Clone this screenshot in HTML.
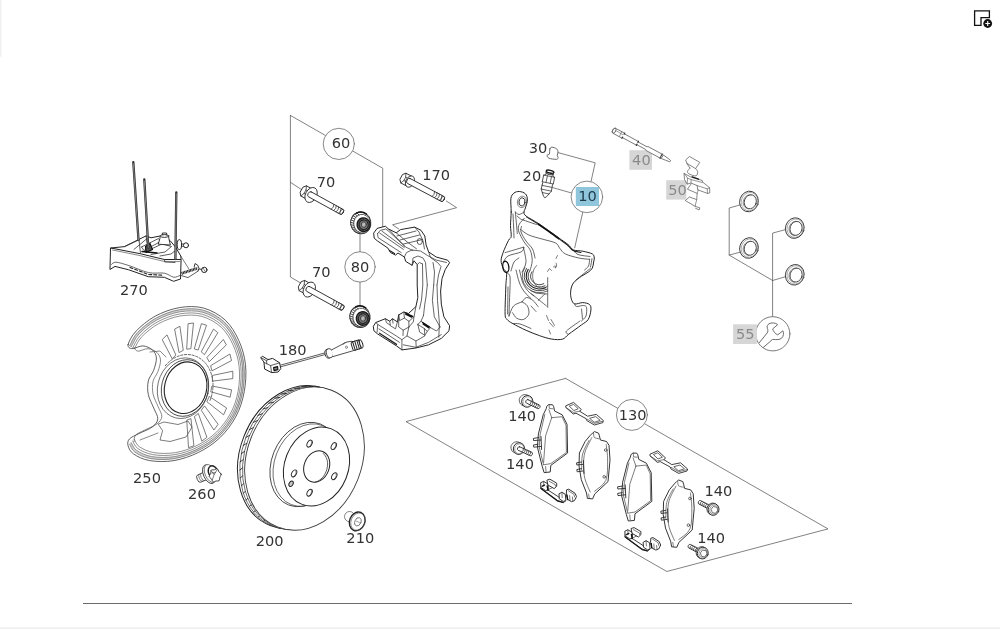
<!DOCTYPE html>
<html lang="en">
<head>
<meta charset="utf-8">
<title>Front brake - parts diagram</title>
<style>
html,body{margin:0;padding:0;background:#fff;}
body{width:1000px;height:629px;overflow:hidden;position:relative;font-family:"DejaVu Sans","Liberation Sans",sans-serif;}
#stage{position:absolute;left:0;top:0;width:1000px;height:629px;background:#fff;}
#diagram{position:absolute;left:0;top:0;will-change:transform;}
#diagram text{font-family:"DejaVu Sans","Liberation Sans",sans-serif;}
#edge{position:absolute;left:0;top:0;width:2px;height:57px;background:linear-gradient(to right,#ededed,#fafafa);border-bottom-right-radius:2px;}
#rule{position:absolute;left:83px;top:603px;width:769px;height:1px;background:#6b6b6b;}
#foot{position:absolute;left:0;top:627px;width:1000px;height:2px;background:linear-gradient(to bottom,#f9f9f9,#ebebeb);}
#zoomicon{position:absolute;left:970px;top:6px;width:26px;height:26px;}
</style>
</head>
<body>
<div id="stage">
<div id="edge"></div>
<svg id="zoomicon" viewBox="970 6 26 26">
<path d="M974.6 10.8 H989.4 V17.6 H981 V25.3 H974.6 Z" fill="#fff" stroke="#111" stroke-width="1.3" stroke-linejoin="miter"/>
<circle cx="987.7" cy="23.5" r="4.4" fill="#111"/>
<path d="M985.3 23.5 H990.1 M987.7 21.1 V25.9" stroke="#fff" stroke-width="1.1"/>
</svg>
<svg id="diagram" width="1000" height="629" viewBox="0 0 1000 629" stroke-linecap="round" stroke-linejoin="round">
<path d="M290.4 115.4 L290.4 277.0 L301.5 283.5" stroke="#585858" stroke-width="0.75" fill="none" />
<path d="M290.4 115.4 L382.7 168.2 L382.7 228.0" stroke="#585858" stroke-width="0.75" fill="none" />
<path d="M290.4 182.3 L301.7 189.7" stroke="#585858" stroke-width="0.75" fill="none" />
<circle cx="338.8" cy="143.9" r="15.6" stroke="#6a6a6a" stroke-width="0.8" fill="#fff"/>
<text x="341.0" y="148.2" text-anchor="middle" font-size="14.6" fill="#333">60</text>
<text x="326.0" y="186.6" text-anchor="middle" font-size="14.6" fill="#333">70</text>
<text x="321.2" y="277.3" text-anchor="middle" font-size="14.6" fill="#333">70</text>
<text x="436.2" y="179.8" text-anchor="middle" font-size="14.6" fill="#333">170</text>
<path d="M446.3 201.0 L456.6 207.7 L392.6 224.8 L398.8 229.0" stroke="#585858" stroke-width="0.75" fill="none" />
<path d="M360.0 234.0 L360.0 305.0" stroke="#585858" stroke-width="0.75" fill="none" />
<circle cx="360.0" cy="266.9" r="15.2" stroke="#6a6a6a" stroke-width="0.8" fill="#fff"/>
<text x="360.0" y="272.0" text-anchor="middle" font-size="14.6" fill="#333">80</text>
<path d="M558.0 152.6 L595.2 162.8 L591.0 181.6" stroke="#585858" stroke-width="0.75" fill="none" />
<path d="M553.0 187.7 L571.6 193.0" stroke="#585858" stroke-width="0.75" fill="none" />
<path d="M582.8 212.0 L574.7 247.8" stroke="#585858" stroke-width="0.75" fill="none" />
<circle cx="586.9" cy="196.9" r="15.8" stroke="#6a6a6a" stroke-width="0.8" fill="#fff"/>
<rect x="575.8" y="187.0" width="23.2" height="19.0" fill="#8fc6dc"/>
<text x="587.6" y="200.8" text-anchor="middle" font-size="14.6" fill="#1f3b4a">10</text>
<text x="538.1" y="153.1" text-anchor="middle" font-size="14.6" fill="#333">30</text>
<text x="531.9" y="181.2" text-anchor="middle" font-size="14.6" fill="#333">20</text>
<rect x="629.4" y="150.2" width="22.6" height="19.6" fill="#d6d6d6"/>
<text x="641.4" y="164.8" text-anchor="middle" font-size="14.6" fill="#8a8a8a">40</text>
<rect x="666.2" y="180.2" width="20.1" height="19.4" fill="#d6d6d6"/>
<text x="677.5" y="194.8" text-anchor="middle" font-size="14.6" fill="#8a8a8a">50</text>
<path d="M739.7 205.0 L729.2 208.0 L729.2 255.1 L772.6 280.5" stroke="#585858" stroke-width="0.75" fill="none" />
<path d="M739.7 252.3 L729.2 255.1" stroke="#585858" stroke-width="0.75" fill="none" />
<path d="M785.1 229.7 L772.6 233.1 L772.6 316.6" stroke="#585858" stroke-width="0.75" fill="none" />
<path d="M785.1 276.8 L772.6 280.5" stroke="#585858" stroke-width="0.75" fill="none" />
<circle cx="772.8" cy="333.8" r="17.1" stroke="#6a6a6a" stroke-width="0.9" fill="#fff"/>
<rect x="733.1" y="324.3" width="23.8" height="19.7" fill="#d6d6d6"/>
<text x="745.2" y="339.3" text-anchor="middle" font-size="14.6" fill="#8a8a8a">55</text>
<path d="M565.6 378.4 L406.0 421.6 L666.8 571.5 L828.0 528.9 L565.6 378.4" stroke="#585858" stroke-width="0.75" fill="none" />
<circle cx="631.9" cy="414.9" r="15.5" stroke="#6a6a6a" stroke-width="0.8" fill="#fff"/>
<text x="632.7" y="420.1" text-anchor="middle" font-size="14.6" fill="#333">130</text>
<text x="522.2" y="421.3" text-anchor="middle" font-size="14.6" fill="#333">140</text>
<text x="520.0" y="468.9" text-anchor="middle" font-size="14.6" fill="#333">140</text>
<text x="718.4" y="495.9" text-anchor="middle" font-size="14.6" fill="#333">140</text>
<text x="711.1" y="542.9" text-anchor="middle" font-size="14.6" fill="#333">140</text>
<text x="133.9" y="295.0" text-anchor="middle" font-size="14.6" fill="#333">270</text>
<text x="147.0" y="482.8" text-anchor="middle" font-size="14.6" fill="#333">250</text>
<text x="202.0" y="498.9" text-anchor="middle" font-size="14.6" fill="#333">260</text>
<text x="269.7" y="546.4" text-anchor="middle" font-size="14.6" fill="#333">200</text>
<text x="360.3" y="542.8" text-anchor="middle" font-size="14.6" fill="#333">210</text>
<text x="292.7" y="355.2" text-anchor="middle" font-size="14.6" fill="#333">180</text>
<g transform="translate(311.1 195.0) rotate(28.8)" stroke="#2a2a2a" stroke-width="0.85" fill="#fff"><path d="M-10.7 -3.2 L-8.5 -5.8 L-1 -5.8 L-1 5.8 L-8.5 5.8 L-10.7 3.2 Z"/><path d="M-8.5 -5.8 L-6.9 -2.0 L-6.9 2.0 L-8.5 5.8 M-6.9 -2.0 L-1 -2.0 M-6.9 2.0 L-1 2.0" fill="none" stroke-width="0.68"/><ellipse cx="0" cy="0" rx="5.6" ry="8.0"/><path d="M-1.5 -2.8 L35.0 -2.8 A1.6 2.8 0 0 1 35.0 2.8 L-1.5 2.8 A1.8 2.8 0 0 1 -1.5 -2.8 Z"/><ellipse cx="35.0" cy="0" rx="1.5" ry="2.8" fill="none" stroke-width="0.68"/><path d="M32.8 -2.8 Q34.4 0 32.8 2.8 M30.0 -2.8 Q31.6 0 30.0 2.8 M27.3 -2.8 Q28.9 0 27.3 2.8 M24.5 -2.8 Q26.1 0 24.5 2.8" fill="none" stroke-width="0.68"/></g>
<g transform="translate(309.3 289.6) rotate(28.8)" stroke="#2a2a2a" stroke-width="0.85" fill="#fff"><path d="M-10.7 -3.2 L-8.5 -5.8 L-1 -5.8 L-1 5.8 L-8.5 5.8 L-10.7 3.2 Z"/><path d="M-8.5 -5.8 L-6.9 -2.0 L-6.9 2.0 L-8.5 5.8 M-6.9 -2.0 L-1 -2.0 M-6.9 2.0 L-1 2.0" fill="none" stroke-width="0.68"/><ellipse cx="0" cy="0" rx="5.6" ry="8.0"/><path d="M-1.5 -2.8 L37.5 -2.8 A1.6 2.8 0 0 1 37.5 2.8 L-1.5 2.8 A1.8 2.8 0 0 1 -1.5 -2.8 Z"/><ellipse cx="37.5" cy="0" rx="1.5" ry="2.8" fill="none" stroke-width="0.68"/><path d="M35.3 -2.8 Q36.9 0 35.3 2.8 M32.5 -2.8 Q34.1 0 32.5 2.8 M29.8 -2.8 Q31.4 0 29.8 2.8 M27.0 -2.8 Q28.6 0 27.0 2.8" fill="none" stroke-width="0.68"/></g>
<g transform="translate(410.0 181.6) rotate(28.0)" stroke="#2a2a2a" stroke-width="0.85" fill="#fff"><path d="M-9.7 -3.0 L-7.5 -5.5 L-1 -5.5 L-1 5.5 L-7.5 5.5 L-9.7 3.0 Z"/><path d="M-7.5 -5.5 L-5.9 -1.9 L-5.9 1.9 L-7.5 5.5 M-5.9 -1.9 L-1 -1.9 M-5.9 1.9 L-1 1.9" fill="none" stroke-width="0.68"/><ellipse cx="0" cy="0" rx="4.2" ry="6.0"/><path d="M-1.5 -2.8 L37.0 -2.8 A1.6 2.8 0 0 1 37.0 2.8 L-1.5 2.8 A1.8 2.8 0 0 1 -1.5 -2.8 Z"/><ellipse cx="37.0" cy="0" rx="1.5" ry="2.8" fill="none" stroke-width="0.68"/><path d="M34.8 -2.8 Q36.4 0 34.8 2.8 M32.0 -2.8 Q33.6 0 32.0 2.8 M29.3 -2.8 Q30.9 0 29.3 2.8 M26.5 -2.8 Q28.1 0 26.5 2.8" fill="none" stroke-width="0.68"/></g>
<ellipse cx="360.7" cy="222.9" rx="10.1" ry="10.8" stroke="#333" stroke-width="1.0" fill="#fff" transform="rotate(-12 360.7 222.9)"/>
<ellipse cx="362.2" cy="223.7" rx="8.5" ry="9.4" stroke="#444" stroke-width="0.8" fill="#fff" transform="rotate(-12 362.2 223.7)"/>
<path d="M358.1 233.3 L360.0 232.8 M356.0 232.4 L358.2 232.0 M354.1 231.1 L356.6 230.8 M352.5 229.2 L355.3 229.2 M351.4 227.1 L354.4 227.4 M350.8 224.8 L353.8 225.3 M350.6 222.3 L353.7 223.2 M351.0 219.9 L354.0 221.1 M351.9 217.7 L354.8 219.1 M353.2 215.7 L355.9 217.4 M354.9 214.1 L357.3 216.0 M356.9 212.9 L359.0 215.0" stroke="#333" stroke-width="0.85" fill="none" />
<path d="M356.4 213.1 A10.1 10.8 0 0 1 366.5 214.1" stroke="#151515" stroke-width="1.5" fill="none" />
<ellipse cx="363.6" cy="224.7" rx="6.5" ry="6.8" stroke="#1a1a1a" stroke-width="1.4" fill="#5e5e5e" transform="rotate(-12 363.6 224.7)"/>
<ellipse cx="363.7" cy="224.8" rx="4.5" ry="4.8" stroke="#222" stroke-width="1.1" fill="#777" transform="rotate(-12 363.7 224.8)"/>
<ellipse cx="363.8" cy="224.6" rx="2.5" ry="2.8" stroke="#333" stroke-width="0.8" fill="#a8a8a8" transform="rotate(-12 363.8 224.6)"/>
<path d="M362.9 225.5 L364.9 223.5" stroke="#e0e0e0" stroke-width="0.9" fill="none" />
<ellipse cx="359.9" cy="316.7" rx="10.1" ry="10.8" stroke="#333" stroke-width="1.0" fill="#fff" transform="rotate(-12 359.9 316.7)"/>
<ellipse cx="361.4" cy="317.5" rx="8.5" ry="9.4" stroke="#444" stroke-width="0.8" fill="#fff" transform="rotate(-12 361.4 317.5)"/>
<path d="M357.3 327.1 L359.2 326.6 M355.2 326.2 L357.4 325.8 M353.3 324.9 L355.8 324.6 M351.7 323.0 L354.5 323.0 M350.6 320.9 L353.6 321.2 M350.0 318.6 L353.0 319.1 M349.8 316.1 L352.9 317.0 M350.2 313.7 L353.2 314.9 M351.1 311.5 L354.0 312.9 M352.4 309.5 L355.1 311.2 M354.1 307.9 L356.5 309.8 M356.1 306.7 L358.2 308.8" stroke="#333" stroke-width="0.85" fill="none" />
<path d="M355.6 306.9 A10.1 10.8 0 0 1 365.7 307.9" stroke="#151515" stroke-width="1.5" fill="none" />
<ellipse cx="362.8" cy="318.5" rx="6.5" ry="6.8" stroke="#1a1a1a" stroke-width="1.4" fill="#5e5e5e" transform="rotate(-12 362.8 318.5)"/>
<ellipse cx="362.9" cy="318.6" rx="4.5" ry="4.8" stroke="#222" stroke-width="1.1" fill="#777" transform="rotate(-12 362.9 318.6)"/>
<ellipse cx="363.0" cy="318.4" rx="2.5" ry="2.8" stroke="#333" stroke-width="0.8" fill="#a8a8a8" transform="rotate(-12 363.0 318.4)"/>
<path d="M362.1 319.3 L364.1 317.3" stroke="#e0e0e0" stroke-width="0.9" fill="none" />
<path d="M373.9 232.8 L377.1 228.4 L385.4 226.2 L388.5 229.0 L396.2 232.8 L400.6 229.6 L414.6 227.1 L421.0 230.3 L424.8 236.0 L426.1 244.9 L428.6 251.9 L436.2 257.0 L447.7 260.2 L449.6 262.7 L445.2 269.7 L442.0 278.6 L440.6 291.0 L441.3 304.1 L443.9 316.8 L449.6 325.7 L449.0 330.8 L441.3 338.4 L428.6 344.8 L415.9 348.0 L401.9 349.9 L396.8 346.1 L377.7 334.0 L373.9 330.8 L373.3 326.3 L375.8 322.5 L385.4 318.7 L389.8 321.3 L392.4 318.7 L397.4 321.9 L398.7 314.9 L403.8 312.0 L408.5 313.5 L415.9 306.6 L417.8 297.7 L417.2 285.0 L417.2 264.6 L414.0 260.8 L412.1 265.3 L405.7 261.4 L404.4 257.0 L398.0 253.0 L395.5 255.1 L390.4 252.5 L387.9 248.1 L377.7 241.1 L374.5 238.5 Z" stroke="#222" stroke-width="1.0" fill="#fff" stroke-linejoin="round"/>
<path d="M377.6 233.6 L380.2 230.4 L385.8 229.0 L389.0 231.5 L404.8 246.4" stroke="#333" stroke-width="0.75" fill="none" />
<path d="M377.6 233.6 L378.0 237.6 L401.2 252.6" stroke="#333" stroke-width="0.75" fill="none" />
<path d="M379.6 233.0 L403.4 249.4" stroke="#333" stroke-width="0.75" fill="none" />
<path d="M382.0 231.2 L404.2 247.6" stroke="#333" stroke-width="0.75" fill="none" />
<path d="M388.5 229.0 L395.5 236.5 L405.5 247.0 L413.0 250.5" stroke="#333" stroke-width="0.75" fill="none" />
<path d="M396.2 232.8 L407.0 241.8 L416.5 248.8" stroke="#333" stroke-width="0.75" fill="none" />
<path d="M397.0 236.0 L416.0 231.0" stroke="#333" stroke-width="0.75" fill="none" />
<path d="M400.0 240.0 L419.5 235.0" stroke="#333" stroke-width="0.75" fill="none" />
<path d="M403.5 244.0 L422.5 239.5" stroke="#333" stroke-width="0.75" fill="none" />
<path d="M414.6 227.1 L419.0 232.0 L423.0 241.0 L424.5 249.0" stroke="#333" stroke-width="0.75" fill="none" />
<path d="M404.4 257.0 L406.5 252.5 L412.0 250.0 L420.5 251.0 L427.5 255.5 L436.0 260.0 L446.5 262.5" stroke="#333" stroke-width="0.75" fill="none" />
<path d="M412.1 265.3 L413.0 258.0 L418.0 256.0 L423.0 258.0 L425.5 262.5 L427.3 285.0" stroke="#333" stroke-width="0.75" fill="none" />
<path d="M417.2 264.6 L419.5 262.5 L422.5 264.0" stroke="#333" stroke-width="0.75" fill="none" />
<path d="M428.6 251.9 L430.5 257.5 L437.5 262.5 L441.0 266.5 L438.5 275.0 L437.0 285.0" stroke="#333" stroke-width="0.75" fill="none" />
<path d="M433.0 262.5 L434.5 272.0 L433.7 285.0" stroke="#333" stroke-width="0.75" fill="none" />
<path d="M427.3 285.0 L426.0 297.0 L424.8 304.1 L423.5 315.5" stroke="#333" stroke-width="0.75" fill="none" />
<path d="M422.5 264.0 L422.8 285.0 L421.5 300.0 L419.5 309.0" stroke="#333" stroke-width="0.75" fill="none" />
<path d="M433.7 285.0 L432.4 300.3 L434.3 316.8 L440.1 327.0" stroke="#333" stroke-width="0.75" fill="none" />
<path d="M437.0 285.0 L437.5 300.3 L439.4 323.2 L438.8 337.2" stroke="#333" stroke-width="0.75" fill="none" />
<path d="M375.8 322.5 L377.7 324.4 L377.1 332.1" stroke="#333" stroke-width="0.75" fill="none" />
<path d="M377.7 324.4 L396.2 335.9 L401.9 339.7 L401.9 349.9" stroke="#333" stroke-width="0.75" fill="none" />
<path d="M379.0 328.9 L399.4 342.3" stroke="#333" stroke-width="0.75" fill="none" />
<path d="M385.4 318.7 L386.4 322.6 L389.9 325.0" stroke="#333" stroke-width="0.75" fill="none" />
<path d="M389.8 321.3 L390.4 325.7 L395.5 328.9 L397.4 321.9" stroke="#333" stroke-width="0.75" fill="none" />
<path d="M392.4 318.7 L393.0 323.2" stroke="#333" stroke-width="0.75" fill="none" />
<path d="M398.7 314.9 L398.7 327.0 L403.2 330.2 L408.9 327.0 L413.3 321.9 L414.0 316.8 L415.9 306.6" stroke="#333" stroke-width="0.75" fill="none" />
<path d="M403.8 312.0 L404.4 318.1 L408.9 321.3 L414.0 316.8" stroke="#333" stroke-width="0.75" fill="none" />
<path d="M398.7 314.9 L399.6 320.6 L404.4 318.1" stroke="#333" stroke-width="0.75" fill="none" />
<path d="M408.9 321.3 L408.9 327.0" stroke="#333" stroke-width="0.75" fill="none" />
<path d="M403.2 330.2 L403.0 335.5" stroke="#333" stroke-width="0.75" fill="none" />
<path d="M417.8 324.4 L421.0 321.3 L430.5 327.6 L427.3 331.4 L424.8 335.3 L419.7 332.1 L417.8 324.4" stroke="#333" stroke-width="0.75" fill="none" />
<path d="M417.8 324.4 L424.4 328.6 L427.3 331.4" stroke="#333" stroke-width="0.75" fill="none" />
<path d="M424.4 328.6 L424.8 335.3" stroke="#333" stroke-width="0.75" fill="none" />
<path d="M421.0 321.3 L423.5 315.5" stroke="#333" stroke-width="0.75" fill="none" />
<path d="M401.9 339.7 L407.0 335.9 L415.9 341.0 L424.8 335.9" stroke="#333" stroke-width="0.75" fill="none" />
<path d="M407.0 335.9 L408.9 327.0" stroke="#333" stroke-width="0.75" fill="none" />
<path d="M415.9 341.0 L416.2 347.6" stroke="#333" stroke-width="0.75" fill="none" />
<path d="M403.2 344.8 L415.9 347.3 L428.6 342.3 L441.3 334.6" stroke="#333" stroke-width="0.75" fill="none" />
<path d="M430.5 327.6 L436.5 331.0 L440.1 327.0" stroke="#333" stroke-width="0.75" fill="none" />
<path d="M405.1 312.8 L412.7 316.4 M405.6 314.2 L411.6 317.2 M422.6 322.4 L429.6 327.0 M423.0 324.0 L428.6 327.8" stroke="#111" stroke-width="1.2" fill="none" />
<path d="M379.5 333.2 L396.5 344.4" stroke="#222" stroke-width="1.3" fill="none" />
<path d="M389.5 250.5 L394.5 253.6" stroke="#222" stroke-width="1.2" fill="none" />
<ellipse cx="419.8" cy="241.5" rx="2.6" ry="3.0" stroke="#333" stroke-width="0.8" fill="none"/>
<path d="M511.2 212.0 C511.3 207.5 510.4 201.7 510.9 198.5 C511.3 195.3 512.5 194.3 513.9 193.1 C515.3 191.9 517.4 191.4 519.3 191.5 C521.2 191.6 524.0 192.4 525.4 193.8 C526.8 195.2 527.4 197.5 527.4 199.9 C527.4 202.3 526.0 206.0 525.4 208.0 C524.8 210.0 523.9 210.7 524.0 212.0 C524.1 213.3 523.5 214.1 526.1 216.1 C528.7 218.1 534.2 220.6 539.6 224.2 C545.0 227.8 553.8 234.3 558.5 237.7 C563.2 241.1 565.5 242.5 568.0 244.5 C570.5 246.5 570.9 248.8 573.4 249.9 C575.9 251.0 579.6 250.5 582.8 251.2 C585.9 251.9 590.4 252.8 592.3 253.9 C594.2 255.0 594.1 256.6 594.3 258.0 C594.5 259.4 593.9 260.3 593.6 262.0 C593.3 263.7 593.2 266.4 592.3 268.1 C591.4 269.8 590.0 270.9 588.2 272.2 C586.4 273.5 584.0 274.4 581.5 276.2 C579.0 278.0 575.2 280.5 573.4 283.0 C571.6 285.5 571.0 288.4 570.7 291.1 C570.4 293.8 570.7 297.1 571.4 299.2 C572.1 301.3 572.8 303.3 574.7 303.9 C576.6 304.5 580.3 302.5 582.8 302.6 C585.3 302.7 588.2 303.4 589.6 304.6 C591.0 305.8 591.1 307.5 590.9 310.0 C590.7 312.5 589.8 317.0 588.2 319.5 C586.6 322.0 584.8 322.4 581.5 324.9 C578.2 327.4 571.8 331.9 568.6 334.3 C565.5 336.7 565.4 338.3 562.6 339.1 C559.8 339.9 555.6 339.7 551.8 339.1 C548.0 338.5 543.9 337.2 539.6 335.7 C535.3 334.2 530.6 332.3 526.1 330.3 C521.6 328.3 515.8 325.3 512.6 323.5 C509.5 321.7 508.4 321.1 507.2 319.5 C505.9 317.9 505.3 319.5 505.1 314.1 C504.9 308.7 505.6 293.8 505.8 287.0 C506.0 280.2 506.9 276.6 506.5 273.5 C506.1 270.4 504.0 270.2 503.1 268.1 C502.2 266.0 501.1 263.3 501.1 260.7 C501.1 258.1 501.9 256.0 503.1 252.6 C504.3 249.2 507.1 243.1 508.5 240.4 C509.9 237.7 510.9 238.9 511.2 236.4 C511.5 233.9 510.5 229.6 510.5 225.5 C510.5 221.4 511.1 216.5 511.2 212.0 Z" stroke="#222" stroke-width="1.0" fill="#fff" />
<ellipse cx="522.0" cy="201.9" rx="3.0" ry="4.0" stroke="#222" stroke-width="0.9" fill="none" transform="rotate(12 522.0 201.9)"/>
<ellipse cx="522.0" cy="201.9" rx="4.6" ry="5.8" stroke="#444" stroke-width="0.6" fill="none" transform="rotate(12 522.0 201.9)"/>
<path d="M515.3 212.0 C515.5 214.2 516.3 221.9 516.6 225.5 C516.9 229.1 517.2 232.2 517.3 233.6" stroke="#333" stroke-width="0.75" fill="none" />
<path d="M513.0 214.0 C513.1 216.0 513.4 222.0 513.6 226.0 C513.8 230.0 513.9 236.0 514.0 238.0" stroke="#333" stroke-width="0.75" fill="none" />
<path d="M515.3 212.0 C515.9 212.4 517.5 214.5 519.0 214.5 C520.5 214.5 523.2 212.4 524.0 212.0" stroke="#333" stroke-width="0.75" fill="none" />
<path d="M517.0 216.0 C517.8 216.6 520.3 219.0 521.5 219.5 C522.7 220.0 523.6 218.9 524.0 218.8" stroke="#333" stroke-width="0.75" fill="none" />
<path d="M524.0 218.8 C523.2 219.7 520.2 222.2 519.3 224.2 C518.4 226.2 517.8 228.0 518.6 230.9 C519.4 233.8 522.1 238.6 524.0 241.8 C525.9 245.0 528.7 246.8 530.1 249.9 C531.5 253.1 532.2 257.3 532.2 260.7 C532.2 264.1 530.5 268.5 530.1 270.1" stroke="#333" stroke-width="0.75" fill="none" />
<path d="M521.5 226.5 C521.4 227.4 520.2 229.6 521.0 232.0 C521.8 234.4 524.1 238.2 526.0 241.0 C527.9 243.8 531.0 246.2 532.5 249.0 C534.0 251.8 534.6 256.5 535.0 258.0" stroke="#333" stroke-width="0.75" fill="none" />
<path d="M523.4 220.1 C525.4 220.8 532.8 223.3 535.5 224.2 C538.2 225.1 535.5 223.0 539.6 225.5 C543.7 228.0 556.5 236.8 559.9 239.1" stroke="#333" stroke-width="0.75" fill="none" />
<path d="M520.7 229.6 C522.1 230.5 525.2 233.4 528.8 235.0 C532.4 236.6 537.8 237.8 542.3 239.1 C546.8 240.4 552.9 241.5 555.8 243.1 C558.7 244.7 558.3 246.7 559.9 248.5 C561.5 250.3 562.1 252.3 565.3 253.9 C568.4 255.5 574.8 257.1 578.8 258.0 C582.8 258.9 587.8 259.1 589.6 259.3" stroke="#333" stroke-width="0.75" fill="none" />
<path d="M573.4 249.9 C574.2 250.7 575.2 253.4 578.0 254.5 C580.8 255.6 588.0 256.2 590.0 256.5" stroke="#333" stroke-width="0.75" fill="none" />
<path d="M505.1 252.6 C508.2 251.7 520.4 248.1 523.4 247.2" stroke="#333" stroke-width="0.75" fill="none" />
<path d="M503.5 262.0 C504.2 261.0 505.1 257.7 508.0 256.0 C510.9 254.3 518.3 253.4 521.0 252.0 C523.7 250.6 523.5 248.2 524.0 247.5" stroke="#333" stroke-width="0.75" fill="none" />
<path d="M523.4 247.2 C523.8 249.7 526.2 257.9 526.0 262.0 C525.8 266.1 522.7 270.3 522.0 272.0" stroke="#333" stroke-width="0.75" fill="none" />
<path d="M589.6 259.3 C589.4 260.4 589.4 264.2 588.5 266.0 C587.6 267.8 585.2 269.3 584.5 270.0" stroke="#333" stroke-width="0.75" fill="none" />
<path d="M592.0 258.5 C591.8 259.9 590.8 265.6 590.5 267.0" stroke="#333" stroke-width="0.75" fill="none" />
<path d="M506.5 273.5 C507.1 274.1 509.5 272.6 510.0 277.0 C510.5 281.4 509.7 293.5 509.5 300.0 C509.3 306.5 509.1 313.3 509.0 316.0" stroke="#333" stroke-width="0.75" fill="none" />
<path d="M508.0 287.0 C507.9 291.5 507.7 309.5 507.6 314.0" stroke="#333" stroke-width="0.75" fill="none" />
<path d="M511.0 271.0 C511.5 269.5 512.7 264.2 514.0 262.0 C515.3 259.8 518.2 258.7 519.0 258.0" stroke="#333" stroke-width="0.75" fill="none" />
<path d="M516.0 270.0 C516.6 272.2 518.1 279.3 519.5 283.0 C520.9 286.7 522.6 289.4 524.5 292.0 C526.4 294.6 529.9 297.4 531.0 298.5" stroke="#333" stroke-width="0.75" fill="none" />
<path d="M519.5 270.0 C520.0 272.0 521.2 278.6 522.5 282.0 C523.8 285.4 525.6 288.2 527.5 290.5 C529.4 292.8 532.9 295.1 534.0 296.0" stroke="#333" stroke-width="0.75" fill="none" />
<path d="M509.0 316.0 C509.8 314.3 511.3 308.4 513.5 306.0 C515.7 303.6 520.6 302.6 522.0 301.9" stroke="#333" stroke-width="0.75" fill="none" />
<path d="M512.6 312.7 C513.3 313.6 514.8 317.0 516.6 318.1 C518.4 319.2 521.4 320.2 523.4 319.5 C525.4 318.8 528.1 316.4 528.8 314.1 C529.5 311.8 528.5 307.9 527.4 305.9 C526.3 303.9 522.9 302.6 522.0 301.9" stroke="#333" stroke-width="0.75" fill="none" />
<path d="M522.0 301.9 C522.8 301.2 524.7 297.7 526.5 297.5 C528.3 297.3 531.1 299.0 533.0 300.5 C534.9 302.0 537.2 305.5 538.0 306.5" stroke="#333" stroke-width="0.75" fill="none" />
<path d="M512.6 323.5 C513.8 323.6 516.9 323.2 520.0 324.0 C523.1 324.8 529.2 327.8 531.0 328.5" stroke="#333" stroke-width="0.75" fill="none" />
<path d="M531.0 306.0 C531.8 306.9 535.2 310.6 536.0 311.5" stroke="#333" stroke-width="0.75" fill="none" />
<path d="M547.7 277.6 C547.7 282.6 547.7 302.4 547.7 307.3" stroke="#333" stroke-width="0.75" fill="none" />
<path d="M531.5 293.8 C534.0 295.8 543.9 303.9 546.4 305.9" stroke="#333" stroke-width="0.75" fill="none" />
<path d="M538.2 300.5 C539.3 299.4 543.9 294.9 545.0 293.8" stroke="#333" stroke-width="0.75" fill="none" />
<path d="M530.0 290.0 C531.0 290.5 533.2 292.3 536.0 293.0 C538.8 293.7 545.2 293.8 547.0 294.0" stroke="#333" stroke-width="0.75" fill="none" />
<path d="M590.3 268.5 C589.2 269.3 586.4 271.6 584.0 273.5 C581.6 275.4 577.3 278.9 576.0 280.0" stroke="#333" stroke-width="0.75" fill="none" />
<path d="M574.7 303.9 C575.0 304.3 575.0 306.2 576.5 306.5 C578.0 306.8 581.8 305.3 583.5 305.5 C585.2 305.7 586.1 305.8 586.5 307.5 C586.9 309.2 586.8 313.8 586.0 316.0 C585.2 318.2 582.2 320.2 581.5 321.0" stroke="#333" stroke-width="0.75" fill="none" />
<path d="M581.5 309.0 C581.7 310.7 582.3 317.3 582.5 319.0" stroke="#333" stroke-width="0.75" fill="none" />
<path d="M568.6 334.3 C568.2 333.8 564.6 333.2 566.5 331.0 C568.4 328.8 577.8 322.7 580.0 321.0" stroke="#333" stroke-width="0.75" fill="none" />
<path d="M526.5 217.0 C528.7 218.3 537.4 223.7 539.6 225.0" stroke="#222" stroke-width="1.0" fill="none" />
<path d="M538.6 224.4 C540.7 225.8 547.6 230.6 551.0 233.0 C554.4 235.4 557.7 237.8 559.0 238.8" stroke="#111" stroke-width="1.6" fill="none" />
<path d="M560.0 239.6 C561.3 240.6 565.8 243.7 568.0 245.5 C570.2 247.3 570.8 249.3 573.0 250.5 C575.2 251.7 579.7 252.2 581.0 252.5" stroke="#222" stroke-width="1.1" fill="none" />
<path d="M543.8 283.7 A9.0 8.5 0 0 1 532.0 271.7" stroke="#333" stroke-width="0.9" fill="none" />
<path d="M545.0 285.8 A11.5 10.9 0 0 1 529.8 270.4" stroke="#333" stroke-width="0.9" fill="none" />
<path d="M545.9 287.5 A13.5 12.8 0 0 1 528.2 269.4" stroke="#222" stroke-width="1.1" fill="none" />
<path d="M546.9 289.2 A15.5 14.7 0 0 1 526.5 268.4" stroke="#333" stroke-width="0.9" fill="none" />
<path d="M547.8 290.9 A17.5 16.6 0 0 1 524.8 267.4" stroke="#444" stroke-width="0.8" fill="none" />
<path d="M547.7 286.0 A8 10.5 0 0 1 536.5 265.5" stroke="#444" stroke-width="0.7" fill="none" />
<ellipse cx="505.8" cy="266.8" rx="3.0" ry="5.6" stroke="#111" stroke-width="1.3" fill="none" transform="rotate(-8 505.8 266.8)"/>
<path d="M547.5 271.5 L549.5 268.5 L551.5 270.5 M553.5 266.8 Q556.5 264.2 555 268 Q557.5 267.5 556.2 263.2 M556 258.5 L557.5 255.5" stroke="#444" stroke-width="0.7" fill="none" />
<path d="M546.5 315.5 L548.5 320.5 M549.5 322.5 L553.5 327 M551 319.5 L554.5 325.5 M549 330 L550.5 334" stroke="#444" stroke-width="0.7" fill="none" />
<ellipse cx="297.3" cy="457.2" rx="57.3" ry="73.5" stroke="#222" stroke-width="1.0" fill="#fff" transform="rotate(21.6 297.3 457.2)"/>
<ellipse cx="299.5" cy="457.6" rx="57.3" ry="73.5" stroke="#444" stroke-width="0.7" fill="none" transform="rotate(21.6 299.5 457.6)"/>
<ellipse cx="302.2" cy="458.1" rx="57.3" ry="73.5" stroke="#444" stroke-width="0.7" fill="none" transform="rotate(21.6 302.2 458.1)"/>
<path d="M263.6 521.2 L264.5 520.4 M258.4 517.1 L259.4 516.0 M253.6 512.1 L254.9 510.8 M249.5 506.4 L251.0 504.9 M246.1 500.1 L247.8 498.3 M243.4 493.2 L245.3 491.3 M241.4 485.8 L243.6 483.8 M240.2 478.1 L242.6 475.9 M239.7 470.1 L242.5 467.9 M240.1 461.9 L243.1 459.7 M241.3 453.7 L244.5 451.4 M243.2 445.5 L246.7 443.3 M245.9 437.5 L249.6 435.3 M249.2 429.7 L253.2 427.7 M253.3 422.3 L257.5 420.5 M257.9 415.4 L262.3 413.7 M263.1 409.0 L267.7 407.6 M268.8 403.3 L273.5 402.1 M274.9 398.3 L279.7 397.3 M281.4 394.1 L286.3 393.4 M288.0 390.8 L293.0 390.3 M294.8 388.3 L299.8 388.2 M301.7 386.7 L306.7 386.9 M308.6 386.1 L313.5 386.6 M315.3 386.4 L320.2 387.2 M321.8 387.7 L326.6 388.8" stroke="#222" stroke-width="0.9" fill="none" />
<ellipse cx="304.5" cy="458.6" rx="57.3" ry="73.5" stroke="#3a3a3a" stroke-width="0.9" fill="#fff" transform="rotate(21.6 304.5 458.6)"/>
<ellipse cx="304.5" cy="464.5" rx="33.0" ry="43.5" stroke="#333" stroke-width="0.8" fill="none" transform="rotate(21.6 304.5 464.5)"/>
<ellipse cx="306.9" cy="465.1" rx="32.4" ry="42.5" stroke="#444" stroke-width="0.7" fill="none" transform="rotate(21.6 306.9 465.1)"/>
<ellipse cx="316.5" cy="466.5" rx="31.8" ry="40.5" stroke="#222" stroke-width="1.0" fill="#fff" transform="rotate(21.6 316.5 466.5)"/>
<ellipse cx="316.7" cy="466.5" rx="12.5" ry="16.2" stroke="#222" stroke-width="1.0" fill="#fff" transform="rotate(21.6 316.7 466.5)"/>
<path d="M323.3 453.5 L324.3 454.6 L325.3 455.9 L326.1 457.3 L326.7 458.8 L327.2 460.4 L327.5 462.2 L327.6 464.0 L327.5 465.8 L327.2 467.7 L326.8 469.5 L326.2 471.3 L325.4 473.1 L324.5 474.7 L323.5 476.3 L322.3 477.7 L321.0 479.0 L319.6 480.1 L318.2 481.0 L316.7 481.7 L315.1 482.2" stroke="#333" stroke-width="0.8" fill="none" />
<ellipse cx="309.6" cy="443.6" rx="2.3" ry="3.7" stroke="#222" stroke-width="0.9" fill="#fff" transform="rotate(29.6 309.6 443.6)"/>
<path d="M311.2 441.2 L311.5 441.9 L311.5 442.9 L311.3 443.9 L310.8 444.9 L310.2 445.9 L309.4 446.6 L308.6 447.0 L307.8 447.2" stroke="#333" stroke-width="0.6" fill="none" />
<ellipse cx="333.8" cy="446.1" rx="2.3" ry="3.7" stroke="#222" stroke-width="0.9" fill="#fff" transform="rotate(29.6 333.8 446.1)"/>
<path d="M335.4 443.7 L335.7 444.4 L335.7 445.4 L335.5 446.4 L335.0 447.4 L334.4 448.4 L333.6 449.1 L332.8 449.5 L332.0 449.7" stroke="#333" stroke-width="0.6" fill="none" />
<ellipse cx="334.3" cy="476.2" rx="2.3" ry="3.7" stroke="#222" stroke-width="0.9" fill="#fff" transform="rotate(29.6 334.3 476.2)"/>
<path d="M335.9 473.8 L336.2 474.5 L336.2 475.5 L336.0 476.5 L335.5 477.5 L334.9 478.5 L334.1 479.2 L333.3 479.6 L332.5 479.8" stroke="#333" stroke-width="0.6" fill="none" />
<ellipse cx="309.6" cy="492.7" rx="2.3" ry="3.7" stroke="#222" stroke-width="0.9" fill="#fff" transform="rotate(29.6 309.6 492.7)"/>
<path d="M311.2 490.3 L311.5 491.0 L311.5 492.0 L311.3 493.0 L310.8 494.0 L310.2 495.0 L309.4 495.7 L308.6 496.1 L307.8 496.3" stroke="#333" stroke-width="0.6" fill="none" />
<ellipse cx="294.1" cy="473.4" rx="2.3" ry="3.7" stroke="#222" stroke-width="0.9" fill="#fff" transform="rotate(29.6 294.1 473.4)"/>
<path d="M295.7 471.0 L296.0 471.7 L296.0 472.7 L295.8 473.7 L295.3 474.7 L294.7 475.7 L293.9 476.4 L293.1 476.8 L292.3 477.0" stroke="#333" stroke-width="0.6" fill="none" />
<ellipse cx="291.1" cy="483.8" rx="1.9" ry="2.9" stroke="#222" stroke-width="1.0" fill="#ccc" transform="rotate(29.6 291.1 483.8)"/>
<path d="M128.1 344.5 C128.8 341.6 131.7 335.7 136.2 331.0 C140.7 326.3 147.9 320.1 155.1 316.2 C162.3 312.3 171.3 309.0 179.4 307.6 C187.5 306.2 196.0 306.0 203.7 308.1 C211.3 310.2 219.5 314.8 225.3 320.2 C231.2 325.6 235.4 333.1 238.8 340.5 C242.2 347.9 244.6 356.2 245.5 364.8 C246.4 373.4 245.8 383.2 244.2 391.8 C242.6 400.4 240.1 408.5 236.1 416.1 C232.1 423.8 226.2 431.6 219.9 437.7 C213.6 443.8 206.0 448.7 198.3 452.5 C190.7 456.3 182.1 459.2 174.0 460.6 C165.9 462.0 156.4 461.7 149.7 460.6 C142.9 459.5 137.1 456.4 133.5 453.9 C129.9 451.4 128.8 448.3 128.1 445.8 C127.4 443.3 127.6 441.0 129.4 439.0 C131.2 437.0 135.1 435.6 138.9 433.6 C142.7 431.6 149.2 429.4 152.4 426.9 C155.6 424.4 157.6 421.9 157.8 418.8 C158.0 415.7 155.3 412.1 153.7 408.0 C152.1 403.9 149.2 399.0 148.3 394.5 C147.4 390.0 147.4 385.1 148.3 381.0 C149.2 376.9 152.3 374.0 153.7 370.2 C155.0 366.4 156.6 361.4 156.4 358.0 C156.2 354.6 154.7 351.9 152.4 349.9 C150.2 347.9 146.3 346.1 142.9 345.9 C139.5 345.7 134.6 348.8 132.1 348.6 C129.6 348.4 127.4 347.4 128.1 344.5 Z" stroke="#444" stroke-width="0.85" fill="#fff" />
<path d="M130.5 346.2 C131.8 344.0 133.9 337.7 138.2 333.2 C142.6 328.7 149.5 322.7 156.4 319.0 C163.3 315.2 171.9 312.0 179.7 310.7 C187.5 309.4 195.7 309.2 203.0 311.2 C210.4 313.2 218.2 317.6 223.8 322.8 C229.4 328.0 233.5 335.2 236.7 342.3 C240.0 349.5 242.3 357.4 243.2 365.6 C244.0 373.9 243.4 383.4 241.9 391.6 C240.4 399.8 238.0 407.6 234.1 414.9 C230.2 422.2 224.6 429.8 218.6 435.6 C212.5 441.5 205.2 446.2 197.8 449.8 C190.5 453.5 182.3 456.3 174.5 457.6 C166.7 458.9 157.7 458.7 151.2 457.6 C144.7 456.5 139.1 453.6 135.6 451.2 C132.2 448.8 131.3 444.7 130.5 443.4" stroke="#d2d2d2" stroke-width="1.7" fill="none" />
<path d="M129.7 345.6 C131.0 343.4 133.2 337.1 137.6 332.5 C142.0 327.9 149.0 321.9 156.0 318.1 C163.0 314.3 171.7 311.0 179.6 309.7 C187.5 308.4 195.8 308.2 203.2 310.2 C210.7 312.2 218.6 316.7 224.3 322.0 C230.0 327.2 234.1 334.5 237.4 341.7 C240.7 349.0 243.0 357.1 243.9 365.4 C244.8 373.7 244.2 383.3 242.7 391.6 C241.1 400.0 238.7 407.8 234.8 415.3 C230.8 422.7 225.1 430.4 219.0 436.3 C212.9 442.2 205.4 447.0 198.0 450.7 C190.6 454.4 182.2 457.3 174.4 458.6 C166.5 459.9 157.3 459.7 150.7 458.6 C144.1 457.5 138.4 454.5 134.9 452.1 C131.4 449.7 130.6 445.5 129.7 444.2" stroke="#555" stroke-width="0.65" fill="none" />
<path d="M131.3 346.7 C132.6 344.6 134.7 338.4 138.9 334.0 C143.2 329.5 150.0 323.7 156.8 320.0 C163.6 316.3 172.1 313.1 179.8 311.8 C187.5 310.6 195.6 310.3 202.8 312.3 C210.0 314.3 217.7 318.6 223.2 323.8 C228.8 328.9 232.8 335.9 236.0 343.0 C239.2 350.0 241.5 357.9 242.3 365.9 C243.2 374.0 242.6 383.4 241.1 391.5 C239.6 399.6 237.3 407.2 233.4 414.5 C229.6 421.7 224.1 429.2 218.1 434.9 C212.2 440.6 204.9 445.3 197.7 448.9 C190.5 452.5 182.4 455.3 174.7 456.6 C167.0 457.8 158.1 457.6 151.7 456.6 C145.3 455.5 139.8 452.6 136.4 450.2 C133.0 447.9 132.1 443.8 131.3 442.6" stroke="#555" stroke-width="0.65" fill="none" />
<path d="M132.8 347.8 C134.1 345.8 136.1 339.7 140.3 335.4 C144.4 331.1 151.0 325.4 157.7 321.8 C164.3 318.2 172.6 315.1 180.0 313.9 C187.5 312.6 195.3 312.4 202.4 314.3 C209.4 316.3 216.9 320.5 222.2 325.5 C227.6 330.4 231.6 337.3 234.7 344.1 C237.8 351.0 240.0 358.6 240.8 366.5 C241.6 374.4 241.1 383.5 239.6 391.3 C238.2 399.2 235.9 406.7 232.2 413.7 C228.4 420.7 223.1 428.0 217.3 433.6 C211.5 439.1 204.4 443.7 197.4 447.2 C190.4 450.7 182.5 453.4 175.0 454.6 C167.6 455.9 158.9 455.7 152.7 454.6 C146.5 453.6 141.1 450.7 137.8 448.5 C134.5 446.2 133.6 442.3 132.8 441.0" stroke="#555" stroke-width="0.65" fill="none" />
<path d="M134.4 348.9 C135.6 346.9 137.6 341.1 141.6 336.9 C145.7 332.7 152.1 327.2 158.5 323.7 C164.9 320.2 173.0 317.2 180.2 316.0 C187.4 314.8 195.1 314.6 201.9 316.4 C208.7 318.3 216.0 322.4 221.2 327.2 C226.4 332.1 230.3 338.7 233.3 345.4 C236.3 352.0 238.4 359.4 239.2 367.1 C240.0 374.7 239.5 383.5 238.1 391.2 C236.7 398.8 234.5 406.0 230.8 412.9 C227.2 419.7 222.0 426.8 216.4 432.2 C210.8 437.6 203.9 442.0 197.1 445.4 C190.3 448.8 182.6 451.4 175.4 452.6 C168.2 453.8 159.7 453.6 153.7 452.6 C147.7 451.6 142.4 448.8 139.2 446.6 C136.0 444.4 135.2 440.6 134.4 439.4" stroke="#555" stroke-width="0.65" fill="none" />
<path d="M134.2 441.6 C134.4 440.6 133.8 437.2 135.4 435.3 C137.1 433.4 140.7 432.1 144.3 430.3 C147.8 428.4 153.9 426.3 156.8 424.0 C159.8 421.7 161.6 419.4 161.8 416.5 C162.0 413.6 159.5 410.2 158.0 406.5 C156.6 402.7 153.8 398.1 153.0 393.9 C152.2 389.7 152.2 385.1 153.0 381.4 C153.8 377.6 156.8 374.9 158.0 371.3 C159.3 367.7 160.7 363.1 160.5 360.0 C160.3 356.8 158.9 354.3 156.8 352.4 C154.7 350.6 151.1 348.9 148.0 348.7 C144.8 348.5 140.2 351.4 137.9 351.2 C135.6 351.0 134.8 348.0 134.2 347.4" stroke="#555" stroke-width="0.7" fill="none" />
<ellipse cx="185.6" cy="387.7" rx="21.0" ry="26.0" stroke="#222" stroke-width="1.1" fill="#fff" transform="rotate(14 185.6 387.7)"/>
<ellipse cx="185.0" cy="388.0" rx="23.4" ry="28.6" stroke="#333" stroke-width="0.8" fill="none" transform="rotate(14 185.0 388.0)"/>
<ellipse cx="183.0" cy="388.2" rx="25.4" ry="30.6" stroke="#444" stroke-width="0.7" fill="none" transform="rotate(14 183.0 388.2)"/>
<path d="M172.0 358.4 L162.2 339.6 L167.0 334.9 L175.7 354.7 Z M179.0 352.2 L174.6 329.1 L179.9 326.3 L183.2 350.0 Z M186.7 348.8 L188.1 323.7 L193.5 323.0 L190.9 348.3 Z M194.4 348.6 L201.4 323.7 L206.5 325.2 L198.3 349.7 Z M201.4 351.5 L213.5 329.1 L217.8 332.7 L204.7 354.3 Z M207.1 357.3 L223.3 339.5 L226.4 344.8 L209.5 361.5 Z M211.0 365.5 L229.9 354.0 L231.5 360.6 L212.3 370.7 Z M212.8 375.4 L232.8 371.2 L232.8 378.6 L212.8 381.1 Z M212.3 386.1 L231.6 389.8 L230.1 397.2 L211.1 391.9 Z M209.5 396.6 L226.6 408.0 L223.6 414.8 L207.2 402.0 Z M204.8 406.2 L218.1 424.3 L213.9 430.0 L201.5 410.6 Z M198.4 413.8 L206.9 437.3 L201.8 441.2 L194.5 417.0 Z M191.0 419.0 L193.9 445.7 L188.5 447.7 L186.8 420.5 Z" stroke="#444" stroke-width="0.7" fill="none" />
<path d="M165.2 365.8 L166.7 364.1 L168.3 362.6 L169.9 361.1 L171.6 359.8 L173.4 358.6 L175.3 357.5 L177.2 356.6 L179.1 355.9 L181.1 355.3 L183.0 354.9 L185.0 354.6 L187.0 354.5 L189.0 354.6 L190.9 354.8 L192.8 355.2 L194.7 355.8 L196.5 356.5 L198.3 357.3 L200.0 358.4 L201.6 359.5 L203.2 360.8 L204.6 362.3 L206.0 363.8 L207.2 365.5 L208.4 367.3 L209.4 369.2 L210.3 371.2 L211.1 373.2 L211.7 375.4 L212.2 377.6 L212.6 379.8 L212.9 382.1 L213.0 384.4 L213.0 386.8 L212.8 389.1 L212.5 391.5 L212.0 393.8 L211.5 396.1 L210.8 398.4 L209.9 400.6" stroke="#555" stroke-width="0.9" fill="none" stroke-dasharray="2.2 1.6"/>
<path d="M158.5 424.0 L164.0 422.0 L178.0 424.5 L188.0 421.0 L192.0 427.0 L186.0 437.0 L170.0 441.5 L160.0 440.0 L162.5 431.0 Z" stroke="#444" stroke-width="0.7" fill="none" />
<path d="M140.0 440.0 L158.0 433.0" stroke="#555" stroke-width="0.7" fill="none" />
<path d="M150.0 352.0 L160.0 351.0 L166.0 357.0" stroke="#555" stroke-width="0.7" fill="none" />
<path d="M547.0 406.2 L548.5 404.6 L552.6 404.8 L553.6 406.4 L554.6 411.0 L562.2 414.8 L567.0 424.3 L567.6 453.0 L550.8 465.4 L550.2 472.0 L544.1 472.6 L542.2 466.3 L537.4 447.2 L538.4 433.9 L543.2 414.8 L546.0 409.1 Z" stroke="#2a2a2a" stroke-width="0.95" fill="#fff" />
<path d="M551.7 417.7 L562.0 416.7 L566.0 425.3 L566.4 452.4 L550.8 463.6 L543.6 464.8" stroke="#444" stroke-width="0.7" fill="none" />
<path d="M551.7 417.7 L545.6 435.8 L543.6 462.5" stroke="#444" stroke-width="0.7" fill="none" />
<path d="M548.9 409.6 L551.7 417.7" stroke="#444" stroke-width="0.7" fill="none" />
<path d="M544.8 414.5 L540.2 434.0 L539.2 447.0 L543.5 464.5" stroke="#444" stroke-width="0.7" fill="none" />
<path d="M549.0 404.8 L549.4 408.5 L553.0 408.8" stroke="#444" stroke-width="0.7" fill="none" />
<path d="M545.6 466.5 L546.0 471.5" stroke="#444" stroke-width="0.7" fill="none" />
<path d="M538.6 437.6 L533.4 438.4 L533.6 440.6 L541.0 440.0 M538.0 444.2 L533.4 445.0 L533.8 447.2 L541.4 446.4" stroke="#2a2a2a" stroke-width="0.9" fill="none" />
<path d="M541.0 436.5 L541.6 449.5" stroke="#2a2a2a" stroke-width="0.9" fill="none" />
<path d="M592.8 432.9 L594.5 431.6 L598.6 433.2 L599.4 435.8 L600.4 440.0 L606.5 441.5 L609.0 445.3 L610.0 460.0 L608.0 481.6 L594.7 494.0 L592.6 498.9 L587.4 498.4 L586.5 493.0 L581.3 479.7 L579.0 466.0 L579.4 453.0 L585.1 441.5 L589.9 435.8 Z" stroke="#2a2a2a" stroke-width="0.95" fill="#fff" />
<path d="M591.8 437.7 C590.7 440.1 586.4 447.3 585.0 452.0 C583.6 456.7 583.6 461.5 583.6 466.0 C583.6 470.5 583.9 474.7 585.0 479.0 C586.1 483.3 589.3 489.8 590.2 492.0" stroke="#444" stroke-width="0.7" fill="none" />
<path d="M589.0 440.5 C587.9 442.8 583.8 449.1 582.6 454.0 C581.4 458.9 581.8 467.3 581.6 470.0" stroke="#444" stroke-width="0.7" fill="none" />
<path d="M606.2 444.5 C606.4 447.1 607.7 454.0 607.6 460.0 C607.5 466.0 608.0 475.2 605.8 480.4 C603.6 485.6 596.4 489.4 594.5 491.2" stroke="#444" stroke-width="0.7" fill="none" />
<path d="M593.6 433.4 C593.7 434.1 593.5 436.5 594.4 437.4 C595.3 438.3 598.2 438.6 599.0 438.8" stroke="#444" stroke-width="0.7" fill="none" />
<path d="M588.6 494.0 C588.7 494.7 589.1 497.3 589.2 498.0" stroke="#444" stroke-width="0.7" fill="none" />
<path d="M581.5 462.0 L576.6 462.8 L576.8 465.0 L582.6 464.4 M581.4 468.6 L576.8 469.6 L577.2 471.8 L583.0 471.0" stroke="#2a2a2a" stroke-width="0.9" fill="none" />
<path d="M583.4 460.5 L584.0 473.5" stroke="#2a2a2a" stroke-width="0.9" fill="none" />
<circle cx="605.7" cy="450.1" r="1.3" stroke="#2a2a2a" stroke-width="0.7" fill="#fff"/>
<circle cx="604.2" cy="476.8" r="1.3" stroke="#2a2a2a" stroke-width="0.7" fill="#fff"/>
<path d="M566.2 405.6 L573.6 402.4 L581.4 409.6 L579.6 411.2 L587.6 416.2 L596.4 414.4 L603.4 420.6 L602.8 422.6 L594.4 425.0 L586.8 420.6 L586.0 418.6 L576.0 413.2 L573.2 414.0 L566.0 407.6 Z" stroke="#2a2a2a" stroke-width="0.9" fill="#fff" />
<path d="M569.6 406.0 L573.6 404.4 L578.2 408.8 L574.2 410.4 Z M590.0 418.2 L595.8 416.6 L600.2 420.4 L594.6 422.2 Z" stroke="#333" stroke-width="0.75" fill="none" />
<path d="M566.0 407.6 L573.4 412.4 L579.6 411.2 M587.0 419.0 L594.4 423.4 L602.8 421.2" stroke="#444" stroke-width="0.7" fill="none" />
<path d="M540.7 488.0 L541.3 485.7 L559.0 497.2 L565.9 500.6 L563.5 502.6 L557.9 500.6 Z" stroke="#2a2a2a" stroke-width="0.9" fill="#fff" />
<path d="M541.0 488.6 L557.9 501.2 L563.0 502.4" stroke="#1a1a1a" stroke-width="1.3" fill="none" />
<path d="M541.0 482.6 L543.6 481.4 L548.2 484.0 L548.2 489.7 L545.6 490.6 L541.2 487.6 Z" stroke="#2a2a2a" stroke-width="0.95" fill="#fff" />
<path d="M547.3 480.0 L549.9 479.2 L556.7 483.2 L556.7 486.3 L554.2 488.6 L548.2 485.2 Z" stroke="#2a2a2a" stroke-width="0.95" fill="#fff" />
<path d="M549.2 481.2 L555.4 484.8 L555.4 486.2 M543.6 481.4 L543.8 486.0 M548.2 489.7 L552.4 487.6" stroke="#444" stroke-width="0.7" fill="none" />
<path d="M547.2 486.0 L548.0 490.2 M542.4 486.2 L544.6 485.0" stroke="#111" stroke-width="1.4" fill="none" />
<path d="M559.3 493.7 L561.9 492.3 L565.3 494.3 L565.9 500.6 L563.2 501.4 L559.6 499.0 Z" stroke="#2a2a2a" stroke-width="0.95" fill="#fff" />
<path d="M567.0 489.7 L568.8 489.2 L575.0 493.2 L576.5 496.6 L574.5 500.6 L571.6 501.7 L567.6 499.5 L566.4 494.6 Z" stroke="#2a2a2a" stroke-width="0.95" fill="#fff" />
<path d="M568.4 490.8 L574.0 494.4 L574.6 497.0 M561.9 492.3 L562.2 497.6 M569.6 495.6 L570.0 500.6 M572.4 497.0 L572.8 501.0" stroke="#444" stroke-width="0.7" fill="none" />
<path d="M567.0 495.0 L567.6 499.5" stroke="#111" stroke-width="1.3" fill="none" />
<path d="M631.2 454.6 L632.7 453.0 L636.8 453.2 L637.8 454.8 L638.8 459.4 L646.4 463.2 L651.2 472.7 L651.8 501.4 L635.0 513.8 L634.4 520.4 L628.3 521.0 L626.4 514.7 L621.6 495.6 L622.6 482.3 L627.4 463.2 L630.2 457.5 Z" stroke="#2a2a2a" stroke-width="0.95" fill="#fff" />
<path d="M635.9 466.1 L646.2 465.1 L650.2 473.7 L650.6 500.8 L635.0 512.0 L627.8 513.2" stroke="#444" stroke-width="0.7" fill="none" />
<path d="M635.9 466.1 L629.8 484.2 L627.8 510.9" stroke="#444" stroke-width="0.7" fill="none" />
<path d="M633.1 458.0 L635.9 466.1" stroke="#444" stroke-width="0.7" fill="none" />
<path d="M629.0 462.9 L624.4 482.4 L623.4 495.4 L627.7 512.9" stroke="#444" stroke-width="0.7" fill="none" />
<path d="M633.2 453.2 L633.6 456.9 L637.2 457.2" stroke="#444" stroke-width="0.7" fill="none" />
<path d="M629.8 514.9 L630.2 519.9" stroke="#444" stroke-width="0.7" fill="none" />
<path d="M622.8 486.0 L617.6 486.8 L617.8 489.0 L625.2 488.4 M622.2 492.6 L617.6 493.4 L618.0 495.6 L625.6 494.8" stroke="#2a2a2a" stroke-width="0.9" fill="none" />
<path d="M625.2 484.9 L625.8 497.9" stroke="#2a2a2a" stroke-width="0.9" fill="none" />
<path d="M677.0 481.3 L678.7 480.0 L682.8 481.6 L683.6 484.2 L684.6 488.4 L690.7 489.9 L693.2 493.7 L694.2 508.4 L692.2 530.0 L678.9 542.4 L676.8 547.3 L671.6 546.8 L670.7 541.4 L665.5 528.1 L663.2 514.4 L663.6 501.4 L669.3 489.9 L674.1 484.2 Z" stroke="#2a2a2a" stroke-width="0.95" fill="#fff" />
<path d="M676.0 486.1 C674.9 488.5 670.6 495.7 669.2 500.4 C667.8 505.1 667.8 509.9 667.8 514.4 C667.8 518.9 668.1 523.1 669.2 527.4 C670.3 531.7 673.5 538.2 674.4 540.4" stroke="#444" stroke-width="0.7" fill="none" />
<path d="M673.2 488.9 C672.1 491.1 668.0 497.5 666.8 502.4 C665.6 507.3 666.0 515.7 665.8 518.4" stroke="#444" stroke-width="0.7" fill="none" />
<path d="M690.4 492.9 C690.6 495.5 691.9 502.4 691.8 508.4 C691.7 514.4 692.2 523.6 690.0 528.8 C687.8 534.0 680.6 537.8 678.7 539.6" stroke="#444" stroke-width="0.7" fill="none" />
<path d="M677.8 481.8 C677.9 482.5 677.7 484.9 678.6 485.8 C679.5 486.7 682.4 487.0 683.2 487.2" stroke="#444" stroke-width="0.7" fill="none" />
<path d="M672.8 542.4 C672.9 543.1 673.3 545.7 673.4 546.4" stroke="#444" stroke-width="0.7" fill="none" />
<path d="M665.7 510.4 L660.8 511.2 L661.0 513.4 L666.8 512.8 M665.6 517.0 L661.0 518.0 L661.4 520.2 L667.2 519.4" stroke="#2a2a2a" stroke-width="0.9" fill="none" />
<path d="M667.6 508.9 L668.2 521.9" stroke="#2a2a2a" stroke-width="0.9" fill="none" />
<circle cx="689.9" cy="498.5" r="1.3" stroke="#2a2a2a" stroke-width="0.7" fill="#fff"/>
<circle cx="688.4" cy="525.2" r="1.3" stroke="#2a2a2a" stroke-width="0.7" fill="#fff"/>
<path d="M650.4 454.0 L657.8 450.8 L665.6 458.0 L663.8 459.6 L671.8 464.6 L680.6 462.8 L687.6 469.0 L687.0 471.0 L678.6 473.4 L671.0 469.0 L670.2 467.0 L660.2 461.6 L657.4 462.4 L650.2 456.0 Z" stroke="#2a2a2a" stroke-width="0.9" fill="#fff" />
<path d="M653.8 454.4 L657.8 452.8 L662.4 457.2 L658.4 458.8 Z M674.2 466.6 L680.0 465.0 L684.4 468.8 L678.8 470.6 Z" stroke="#333" stroke-width="0.75" fill="none" />
<path d="M650.2 456.0 L657.6 460.8 L663.8 459.6 M671.2 467.4 L678.6 471.8 L687.0 469.6" stroke="#444" stroke-width="0.7" fill="none" />
<path d="M624.9 536.4 L625.5 534.1 L643.2 545.6 L650.1 549.0 L647.7 551.0 L642.1 549.0 Z" stroke="#2a2a2a" stroke-width="0.9" fill="#fff" />
<path d="M625.2 537.0 L642.1 549.6 L647.2 550.8" stroke="#1a1a1a" stroke-width="1.3" fill="none" />
<path d="M625.2 531.0 L627.8 529.8 L632.4 532.4 L632.4 538.1 L629.8 539.0 L625.4 536.0 Z" stroke="#2a2a2a" stroke-width="0.95" fill="#fff" />
<path d="M631.5 528.4 L634.1 527.6 L640.9 531.6 L640.9 534.7 L638.4 537.0 L632.4 533.6 Z" stroke="#2a2a2a" stroke-width="0.95" fill="#fff" />
<path d="M633.4 529.6 L639.6 533.2 L639.6 534.6 M627.8 529.8 L628.0 534.4 M632.4 538.1 L636.6 536.0" stroke="#444" stroke-width="0.7" fill="none" />
<path d="M631.4 534.4 L632.2 538.6 M626.6 534.6 L628.8 533.4" stroke="#111" stroke-width="1.4" fill="none" />
<path d="M643.5 542.1 L646.1 540.7 L649.5 542.7 L650.1 549.0 L647.4 549.8 L643.8 547.4 Z" stroke="#2a2a2a" stroke-width="0.95" fill="#fff" />
<path d="M651.2 538.1 L653.0 537.6 L659.2 541.6 L660.7 545.0 L658.7 549.0 L655.8 550.1 L651.8 547.9 L650.6 543.0 Z" stroke="#2a2a2a" stroke-width="0.95" fill="#fff" />
<path d="M652.6 539.2 L658.2 542.8 L658.8 545.4 M646.1 540.7 L646.4 546.0 M653.8 544.0 L654.2 549.0 M656.6 545.4 L657.0 549.4" stroke="#444" stroke-width="0.7" fill="none" />
<path d="M651.2 543.4 L651.8 547.9" stroke="#111" stroke-width="1.3" fill="none" />
<path d="M530.7 402.3 C530.1 403.9 527.8 405.7 526.1 406.0 C524.4 406.3 521.6 405.3 520.5 404.0 C519.4 402.7 518.9 399.9 519.5 398.3 C520.1 396.7 522.4 394.9 524.1 394.6 C525.8 394.3 528.6 395.3 529.7 396.6 C530.8 397.9 531.3 400.7 530.7 402.3 Z" stroke="#3a3a3a" stroke-width="0.8" fill="#fff" />
<ellipse cx="527.3" cy="401.4" rx="5.6" ry="5.9" stroke="#2a2a2a" stroke-width="0.9" fill="#fff" transform="rotate(20 527.3 401.4)"/>
<ellipse cx="527.7" cy="401.6" rx="4.6" ry="4.9" stroke="#777" stroke-width="0.55" fill="none" transform="rotate(20 527.7 401.6)"/>
<g transform="translate(526.7 401.1) rotate(25.7)" stroke="#2a2a2a" stroke-width="0.8" fill="#fff"><path d="M0.5 -1.9 L13.3 -1.9 A1.3 1.9 0 0 1 13.3 1.9 L0.5 1.9 A1.3 1.9 0 0 1 0.5 -1.9 Z"/><path d="M12.1 -1.9 Q13.3 0 12.1 1.9 M10.1 -1.9 Q11.3 0 10.1 1.9 M8.1 -1.9 Q9.3 0 8.1 1.9 M6.1 -1.9 Q7.3 0 6.1 1.9 M4.1 -1.9 Q5.3 0 4.1 1.9" fill="none" stroke-width="0.7"/></g>
<path d="M522.4 449.5 C521.8 451.1 519.5 452.9 517.8 453.2 C516.1 453.5 513.3 452.5 512.2 451.2 C511.1 449.9 510.6 447.1 511.2 445.5 C511.8 443.9 514.1 442.1 515.8 441.8 C517.5 441.5 520.3 442.5 521.4 443.8 C522.5 445.1 523.0 447.9 522.4 449.5 Z" stroke="#3a3a3a" stroke-width="0.8" fill="#fff" />
<ellipse cx="519.0" cy="448.6" rx="5.6" ry="5.9" stroke="#2a2a2a" stroke-width="0.9" fill="#fff" transform="rotate(20 519.0 448.6)"/>
<ellipse cx="519.4" cy="448.8" rx="4.6" ry="4.9" stroke="#777" stroke-width="0.55" fill="none" transform="rotate(20 519.4 448.8)"/>
<g transform="translate(518.4 448.3) rotate(24.2)" stroke="#2a2a2a" stroke-width="0.8" fill="#fff"><path d="M0.5 -1.9 L13.9 -1.9 A1.3 1.9 0 0 1 13.9 1.9 L0.5 1.9 A1.3 1.9 0 0 1 0.5 -1.9 Z"/><path d="M12.7 -1.9 Q13.9 0 12.7 1.9 M10.7 -1.9 Q11.9 0 10.7 1.9 M8.7 -1.9 Q9.9 0 8.7 1.9 M6.7 -1.9 Q7.9 0 6.7 1.9 M4.7 -1.9 Q5.9 0 4.7 1.9" fill="none" stroke-width="0.7"/></g>
<g transform="translate(713.6 509.5) rotate(-152.5)" stroke="#2a2a2a" stroke-width="0.8" fill="#fff"><path d="M3 -1.9 L15.8 -1.9 A1.2 1.9 0 0 1 15.8 1.9 L3 1.9 Z"/><path d="M14.3 -1.9 Q15.4 0 14.3 1.9 M12.3 -1.9 Q13.4 0 12.3 1.9 M10.3 -1.9 Q11.4 0 10.3 1.9 M8.3 -1.9 Q9.4 0 8.3 1.9 M6.3 -1.9 Q7.4 0 6.3 1.9" fill="none" stroke-width="0.7"/></g>
<ellipse cx="712.4" cy="508.9" rx="5.4" ry="5.9" stroke="#333" stroke-width="0.8" fill="#fff" transform="rotate(20 712.4 508.9)"/>
<ellipse cx="713.6" cy="509.5" rx="5.4" ry="5.9" stroke="#2a2a2a" stroke-width="0.9" fill="#fff" transform="rotate(20 713.6 509.5)"/>
<ellipse cx="714.0" cy="509.7" rx="4.2" ry="4.7" stroke="#666" stroke-width="0.6" fill="none" transform="rotate(20 714.0 509.7)"/>
<path d="M717.6 510.5 L715.5 513.3 L712.3 512.7 L711.2 509.3 L713.3 506.5 L716.5 507.1 Z" stroke="#444" stroke-width="0.75" fill="none" />
<g transform="translate(702.8 553.1) rotate(-152.4)" stroke="#2a2a2a" stroke-width="0.8" fill="#fff"><path d="M3 -1.9 L15.1 -1.9 A1.2 1.9 0 0 1 15.1 1.9 L3 1.9 Z"/><path d="M13.6 -1.9 Q14.7 0 13.6 1.9 M11.6 -1.9 Q12.7 0 11.6 1.9 M9.6 -1.9 Q10.7 0 9.6 1.9 M7.6 -1.9 Q8.7 0 7.6 1.9 M5.6 -1.9 Q6.7 0 5.6 1.9" fill="none" stroke-width="0.7"/></g>
<ellipse cx="701.6" cy="552.5" rx="5.4" ry="5.9" stroke="#333" stroke-width="0.8" fill="#fff" transform="rotate(20 701.6 552.5)"/>
<ellipse cx="702.8" cy="553.1" rx="5.4" ry="5.9" stroke="#2a2a2a" stroke-width="0.9" fill="#fff" transform="rotate(20 702.8 553.1)"/>
<ellipse cx="703.2" cy="553.3" rx="4.2" ry="4.7" stroke="#666" stroke-width="0.6" fill="none" transform="rotate(20 703.2 553.3)"/>
<path d="M706.8 554.1 L704.7 556.9 L701.5 556.3 L700.4 552.9 L702.5 550.1 L705.7 550.7 Z" stroke="#444" stroke-width="0.75" fill="none" />
<path d="M110.9 248.0 L124.5 246.6 L146.0 235.9 L151.0 237.8 L160.0 236.0 L170.0 240.5 L175.5 247.0 L180.8 256.0 L181.1 259.5 L180.5 279.0 L173.6 281.3 L164.4 277.3 L148.3 276.7 L128.7 269.8 L115.0 266.4 L110.3 269.3 Z" stroke="#222" stroke-width="1.0" fill="#fff" />
<path d="M110.9 248.0 L140.2 253.7 L164.4 259.5 L180.8 259.5" stroke="#222" stroke-width="1.0" fill="none" />
<path d="M112.5 250.0 L140.0 255.6 L164.0 261.4 L180.0 261.6" stroke="#555" stroke-width="0.7" fill="none" />
<path d="M111.5 264.5 C112.2 264.1 113.1 262.0 116.0 262.2 C118.9 262.4 123.6 263.9 129.0 265.6 C134.4 267.3 142.6 271.3 148.5 272.6 C154.4 273.9 160.2 272.4 164.4 273.2 C168.6 274.0 171.0 276.8 173.6 277.2 C176.2 277.6 178.9 275.7 180.0 275.4" stroke="#444" stroke-width="0.8" fill="none" />
<path d="M130.0 267.4 L148.0 274.4 L163.0 275.2" stroke="#222" stroke-width="1.1" fill="none" stroke-dasharray="3 2"/>
<path d="M124.5 246.6 L139.0 239.8 L140.4 252.8 M134.0 249.4 L146.5 239.0 M146.0 235.9 L147.8 248.0 M141.5 247.0 L158.5 238.5 L160.5 241.5 L144.0 250.5 L141.5 247.0 M148.0 250.5 L162.0 244.0 L171.5 246.5 L165.0 252.0 L151.0 254.5 M160.0 256.0 L171.0 254.0 L176.0 250.0 M164.4 259.5 L164.8 262.0 L175.0 262.5" stroke="#333" stroke-width="0.8" fill="none" />
<path d="M145.5 246.5 L150.0 243.5 L152.5 249.5 L146.0 252.5 Z" stroke="#111" stroke-width="1.2" fill="#555" />
<path d="M142.0 251.5 L157.0 253.0" stroke="#111" stroke-width="1.4" fill="none" />
<path d="M160.0 238.0 L160.3 235.6 L164.4 234.8 L168.6 235.8 L168.8 238.4 L170.4 245.0 L158.6 244.2 Z" stroke="#222" stroke-width="0.9" fill="#fff" />
<ellipse cx="164.5" cy="236.0" rx="4.2" ry="1.4" stroke="#222" stroke-width="0.9" fill="#fff"/>
<path d="M162.2 234.8 L162.4 233.0 L166.6 233.0 L166.8 235.0" stroke="#222" stroke-width="0.9" fill="none" />
<path d="M133.3 162.2 L138.5 240.0" stroke="#2e2e2e" stroke-width="2.3" fill="none" stroke-linecap="round"/>
<path d="M133.3 163.7 L138.5 240.0" stroke="#b8b8b8" stroke-width="0.6" fill="none"/>
<path d="M144.3 179.4 L148.3 247.5" stroke="#2e2e2e" stroke-width="2.3" fill="none" stroke-linecap="round"/>
<path d="M144.3 180.9 L148.3 247.5" stroke="#b8b8b8" stroke-width="0.6" fill="none"/>
<path d="M176.3 192.3 L175.4 259.0" stroke="#2e2e2e" stroke-width="2.3" fill="none" stroke-linecap="round"/>
<path d="M176.3 193.8 L175.4 259.0" stroke="#b8b8b8" stroke-width="0.6" fill="none"/>
<ellipse cx="179.4" cy="244.6" rx="2.2" ry="5.0" stroke="#222" stroke-width="1.0" fill="#fff"/>
<path d="M181.4 243.8 L184.0 244.2 M181.4 246.4 L184.0 246.2" stroke="#222" stroke-width="0.8" fill="none" />
<circle cx="186.0" cy="245.3" r="2.5" stroke="#222" stroke-width="1.0" fill="#fff"/>
<path d="M180.8 256.0 L189.1 269.3" stroke="#444" stroke-width="0.7" fill="none" />
<path d="M181.6 273.4 L197.4 268.2" stroke="#1a1a1a" stroke-width="2.8" fill="none" stroke-dasharray="1.0 0.5" stroke-linecap="butt"/>
<path d="M181.4 275.6 L188.0 277.6 L198.2 271.0" stroke="#333" stroke-width="0.8" fill="none" />
<path d="M194.2 266.8 L195.0 263.6 L197.6 265.0 L199.0 268.4 L198.0 271.0" stroke="#222" stroke-width="0.9" fill="none" />
<path d="M199.0 269.0 L202.0 269.4" stroke="#222" stroke-width="0.9" fill="none" />
<circle cx="204.3" cy="269.9" r="2.7" stroke="#222" stroke-width="1.0" fill="#fff"/>
<path d="M203.0 268.0 L205.4 271.8" stroke="#444" stroke-width="0.7" fill="none" />
<g transform="translate(210.2 473.6) rotate(-24) scale(0.94)"><path d="M-7 -4.2 L-13.2 -4.0 A1.9 4.1 0 0 0 -13.2 4.2 L-7 4.4" fill="#fff" stroke="#333" stroke-width="0.85"/><path d="M-11.0 -4.0 A1.6 4.0 0 0 0 -11.0 4.2 M-8.8 -4.1 A1.6 4.0 0 0 0 -8.8 4.3" fill="none" stroke="#555" stroke-width="0.7"/><ellipse cx="-1.5" cy="0" rx="5.8" ry="10.6" fill="#fff" stroke="#333" stroke-width="0.9"/><ellipse cx="0.2" cy="0" rx="5.6" ry="10.2" fill="#fff" stroke="#444" stroke-width="0.7"/><ellipse cx="3.6" cy="0.2" rx="5.0" ry="7.4" fill="#fff" stroke="#1e1e1e" stroke-width="1.5"/></g>
<path d="M221.2 474.2 C221.3 475.1 220.2 476.2 219.8 477.3 C219.5 478.4 219.7 480.1 219.1 480.7 C218.5 481.3 217.1 480.8 216.1 481.0 C215.1 481.2 213.9 482.3 213.1 481.9 C212.4 481.6 212.1 479.9 211.4 479.0 C210.8 478.1 209.4 477.5 209.2 476.6 C209.1 475.7 210.2 474.6 210.6 473.5 C210.9 472.4 210.7 470.7 211.3 470.1 C211.9 469.5 213.3 470.0 214.3 469.8 C215.3 469.6 216.5 468.5 217.3 468.9 C218.0 469.2 218.3 470.9 219.0 471.8 C219.6 472.7 221.0 473.3 221.2 474.2 Z" stroke="#2a2a2a" stroke-width="0.9" fill="#fff" />
<path d="M211.0 470.6 L214.2 474.4 L212.4 479.6 M214.2 474.4 L216.8 470.2 M211.8 473.0 L215.4 472.6" stroke="#444" stroke-width="0.7" fill="none" />
<circle cx="349.6" cy="516.6" r="5.1" stroke="#666" stroke-width="0.8" fill="#fff"/>
<ellipse cx="357.2" cy="521.4" rx="7.6" ry="9.6" stroke="#222" stroke-width="1.35" fill="#fff" transform="rotate(22 357.2 521.4)"/>
<ellipse cx="358.0" cy="521.7" rx="7.0" ry="8.9" stroke="#555" stroke-width="0.6" fill="none" transform="rotate(22 358.0 521.7)"/>
<ellipse cx="357.9" cy="521.8" rx="3.0" ry="4.3" stroke="#666" stroke-width="0.8" fill="none" transform="rotate(22 357.9 521.8)"/>
<path d="M356.4 521.2 L359.4 522.4" stroke="#777" stroke-width="0.7" fill="none" />
<g transform="translate(550.2 171.1) rotate(11.6)" stroke="#333" stroke-width="0.8" fill="#fff"><path d="M-3.6 1 L-3.6 4.6 L-5.6 5.2 L-5.6 12 L-5.0 12.6 L-5.2 19.4 L-1.6 25.8 L0 27.2 L1.6 25.8 L5.2 19.4 L5.0 12.6 L5.6 12 L5.6 5.2 L3.6 4.6 L3.6 1 Z"/><path d="M-5.6 5.2 L5.6 5.2 M-5.6 12 L5.6 12 M-5.2 15.6 L5.2 15.6 M-5.2 19.4 L5.2 19.4 M-3.4 22.6 L3.4 22.6 M-1.8 5.2 L-1.8 12 M2.4 5.2 L2.4 12" fill="none" stroke-width="0.7"/><ellipse cx="0" cy="0.6" rx="3.9" ry="1.4" stroke="#1a1a1a" stroke-width="1.4"/><path d="M-3.8 2.6 A3.9 1.3 0 0 0 3.8 2.6" fill="none" stroke="#222" stroke-width="0.9"/></g>
<path d="M549.9 148.9 C550.3 147.8 550.9 147.2 552.0 147.2 C553.1 147.2 555.7 148.1 556.7 148.9 C557.7 149.7 557.9 150.9 558.0 152.0 C558.1 153.1 557.2 154.8 557.2 155.7 C557.2 156.6 558.3 157.1 558.2 157.7 C558.1 158.3 557.7 159.1 556.7 159.3 C555.8 159.5 553.8 159.2 552.5 159.0 C551.2 158.8 549.8 158.7 548.9 158.2 C548.0 157.7 547.3 156.8 547.1 156.2 C546.9 155.6 547.3 154.9 547.7 154.6 C548.1 154.2 549.0 155.0 549.4 154.1 C549.8 153.2 549.5 150.1 549.9 148.9 Z" stroke="#444" stroke-width="0.8" fill="#fff" />
<g transform="translate(612.6 129.9) rotate(28.4)" stroke="#6a6a6a" stroke-width="0.8" fill="#fff"><path d="M1.6 -2.8 L12 -2.8 L12.6 -2.1 L28 -2.1 L28.6 -1.5 L38.4 -1.5 L39 -2.2 L55 -2.2 L61 -1.5 L64.6 -1.0 A1.2 1.0 0 0 1 64.6 1.0 L61 1.5 L55 2.2 L39 2.2 L38.4 1.5 L28.6 1.5 L28 2.1 L12.6 2.1 L12 2.8 L1.6 2.8 A1.6 2.8 0 0 1 1.6 -2.8 Z"/><ellipse cx="1.8" cy="0" rx="1.5" ry="2.7" fill="none"/><path d="M3 -1.0 L11 -0.6 M9.0 -2.8 L9.0 2.8" fill="none" stroke-width="0.6"/><path d="M12.2 -2.9 L12.2 -1.6 M12.2 1.6 L12.2 2.9 M28.2 -2.3 L28.2 -1.0 M28.2 1.0 L28.2 2.3 M55.2 -2.3 L55.2 -0.8 M55.2 0.8 L55.2 2.3" stroke="#3a3a3a" stroke-width="1.3" fill="none"/><ellipse cx="55.6" cy="0" rx="0.9" ry="2.1" fill="none" stroke-width="0.6"/></g>
<path d="M689.9 156.7 L699.8 162.4 L695.6 168.6 L686.9 163.4 L685.8 160.3 Z" stroke="#666" stroke-width="0.8" fill="#fff" />
<path d="M689.9 168.1 C689.5 168.7 687.4 170.7 687.4 171.7 C687.4 172.7 688.4 173.6 689.9 174.3 C691.4 175.0 694.8 176.2 696.1 175.8 C697.4 175.4 697.8 172.9 697.7 171.7 C697.6 170.5 696.0 169.1 695.6 168.6" stroke="#666" stroke-width="0.8" fill="none" />
<path d="M686.9 163.4 L689.9 168.1" stroke="#666" stroke-width="0.8" fill="none" />
<path d="M684.3 173.5 L691.0 177.1 L702.3 180.5 L702.5 182.0 L709.6 187.7 L709.8 192.9 L707.5 193.4 L697.7 189.8 L697.2 185.6 L691.0 183.0 L687.1 184.1 L684.8 180.0 Z" stroke="#666" stroke-width="0.8" fill="#fff" />
<path d="M684.3 173.5 L687.6 178.2 L687.1 184.1 M687.6 178.2 L691.2 179.6 L691.0 183.0 M691.2 179.6 L702.5 182.6 M697.2 185.6 L707.2 188.8 L707.5 193.4 M707.2 188.8 L709.6 187.7" stroke="#666" stroke-width="0.7" fill="none" />
<path d="M692.2 176.8 L698.6 179.2" stroke="#222" stroke-width="1.4" fill="none" />
<path d="M691.0 184.1 L687.4 189.2 L697.2 193.4 L696.7 199.6 L689.4 197.0 L685.3 200.6 L695.1 206.3 L699.8 207.8 L699.2 209.9 L695.6 208.3" stroke="#666" stroke-width="0.8" fill="none" />
<path d="M696.7 199.6 L695.1 206.3 M697.2 193.4 L698.2 189.9" stroke="#666" stroke-width="0.7" fill="none" />
<ellipse cx="749.0" cy="201.5" rx="9.3" ry="10.4" stroke="#3a3a3a" stroke-width="0.9" fill="#fff" transform="rotate(18 749.0 201.5)"/>
<ellipse cx="749.5" cy="201.6" rx="8.2" ry="9.3" stroke="#777" stroke-width="0.55" fill="none" transform="rotate(18 749.5 201.6)"/>
<ellipse cx="750.3" cy="201.8" rx="6.0" ry="7.1" stroke="#3a3a3a" stroke-width="0.85" fill="none" transform="rotate(18 750.3 201.8)"/>
<path d="M748.7 208.8 L747.4 208.6 L746.3 208.2 L745.2 207.5 L744.4 206.5 L743.7 205.3 L743.3 204.0 L743.2 202.6 L743.3 201.1 L743.7 199.7 L744.3 198.4 L745.1 197.2 L746.1 196.2 L747.2 195.5 L748.5 195.0 L749.7 194.8 L751.0 194.9" stroke="#555" stroke-width="0.65" fill="none" />
<ellipse cx="749.0" cy="248.0" rx="9.3" ry="10.4" stroke="#3a3a3a" stroke-width="0.9" fill="#fff" transform="rotate(18 749.0 248.0)"/>
<ellipse cx="749.5" cy="248.1" rx="8.2" ry="9.3" stroke="#777" stroke-width="0.55" fill="none" transform="rotate(18 749.5 248.1)"/>
<ellipse cx="750.3" cy="248.3" rx="6.0" ry="7.1" stroke="#3a3a3a" stroke-width="0.85" fill="none" transform="rotate(18 750.3 248.3)"/>
<path d="M748.7 255.3 L747.4 255.1 L746.3 254.7 L745.2 254.0 L744.4 253.0 L743.7 251.8 L743.3 250.5 L743.2 249.1 L743.3 247.6 L743.7 246.2 L744.3 244.9 L745.1 243.7 L746.1 242.7 L747.2 242.0 L748.5 241.5 L749.7 241.3 L751.0 241.4" stroke="#555" stroke-width="0.65" fill="none" />
<ellipse cx="794.8" cy="228.1" rx="9.3" ry="10.4" stroke="#3a3a3a" stroke-width="0.9" fill="#fff" transform="rotate(18 794.8 228.1)"/>
<ellipse cx="795.3" cy="228.2" rx="8.2" ry="9.3" stroke="#777" stroke-width="0.55" fill="none" transform="rotate(18 795.3 228.2)"/>
<ellipse cx="796.1" cy="228.4" rx="6.0" ry="7.1" stroke="#3a3a3a" stroke-width="0.85" fill="none" transform="rotate(18 796.1 228.4)"/>
<path d="M794.5 235.4 L793.2 235.2 L792.1 234.8 L791.0 234.1 L790.2 233.1 L789.5 231.9 L789.1 230.6 L789.0 229.2 L789.1 227.7 L789.5 226.3 L790.1 225.0 L790.9 223.8 L791.9 222.8 L793.0 222.1 L794.3 221.6 L795.5 221.4 L796.8 221.5" stroke="#555" stroke-width="0.65" fill="none" />
<ellipse cx="794.8" cy="274.8" rx="9.3" ry="10.4" stroke="#3a3a3a" stroke-width="0.9" fill="#fff" transform="rotate(18 794.8 274.8)"/>
<ellipse cx="795.3" cy="274.9" rx="8.2" ry="9.3" stroke="#777" stroke-width="0.55" fill="none" transform="rotate(18 795.3 274.9)"/>
<ellipse cx="796.1" cy="275.1" rx="6.0" ry="7.1" stroke="#3a3a3a" stroke-width="0.85" fill="none" transform="rotate(18 796.1 275.1)"/>
<path d="M794.5 282.1 L793.2 281.9 L792.1 281.5 L791.0 280.8 L790.2 279.8 L789.5 278.6 L789.1 277.3 L789.0 275.9 L789.1 274.4 L789.5 273.0 L790.1 271.7 L790.9 270.5 L791.9 269.5 L793.0 268.8 L794.3 268.3 L795.5 268.1 L796.8 268.2" stroke="#555" stroke-width="0.65" fill="none" />
<path d="M759.4 342.6 L767.1 333.0 C768.2 331.6 768.0 330.0 767.4 328.4 C766.6 326.2 767.6 324.6 769.0 323.8 C771.4 322.4 775.6 322.6 777.7 324.6 L772.6 329.0 C773.2 331.0 775.6 334.2 777.7 334.9 L782.9 330.8 C784.0 333.0 783.6 336.2 781.6 338.2 C779.8 339.8 776.6 339.8 772.6 339.4 L763.4 347.4" stroke="#6a6a6a" stroke-width="1.0" fill="none" />
<path d="M281.0 365.0 L324.6 353.0" stroke="#333" stroke-width="0.8" fill="none" />
<path d="M281.4 366.6 L325.0 354.6" stroke="#333" stroke-width="0.8" fill="none" />
<path d="M261.0 357.6 L262.4 356.2 L268.0 359.6 L272.6 358.4 L279.6 362.8 L280.8 368.6 L278.2 372.0 L271.6 372.6 L264.6 369.0 L264.0 362.4 Z" stroke="#222" stroke-width="1.0" fill="#fff" />
<path d="M264.0 362.4 L270.6 365.6 L271.6 372.6 M270.6 365.6 L279.6 362.8 M261.0 357.6 L266.6 360.8 L268.0 359.6 M266.6 360.8 L266.8 363.8" stroke="#333" stroke-width="0.8" fill="none" />
<path d="M273.6 367.6 L277.6 366.6 L277.9 369.6 L274.0 370.6 Z" stroke="#111" stroke-width="1.1" fill="#888" />
<ellipse cx="328.4" cy="353.6" rx="3.4" ry="4.6" stroke="#333" stroke-width="0.9" fill="#fff" transform="rotate(-15 328.4 353.6)"/>
<ellipse cx="329.8" cy="353.2" rx="3.4" ry="4.6" stroke="#333" stroke-width="0.8" fill="#fff" transform="rotate(-15 329.8 353.2)"/>
<path d="M331.6 349.9 L346.2 342.2 L351.6 341.2 L354.2 350.4 L333.0 356.6" stroke="#333" stroke-width="0.85" fill="#fff" />
<ellipse cx="346.4" cy="347.2" rx="1.0" ry="1.3" stroke="#555" stroke-width="0.6" fill="none"/>
<path d="M343.0 344.6 L344.0 343.0 L346.0 342.6" stroke="#444" stroke-width="0.7" fill="none" />
<g transform="translate(356.4 345.2) rotate(-17)"><rect x="-4.6" y="-4.4" width="9.6" height="8.8" rx="1.6" fill="#fff" stroke="#222" stroke-width="0.9"/><path d="M-2.6 -4.4 V4.4 M-0.4 -4.4 V4.4 M1.8 -4.4 V4.4 M3.6 -4.2 V4.2" stroke="#222" stroke-width="1.0" fill="none"/><ellipse cx="5.0" cy="0" rx="1.4" ry="4.3" fill="#fff" stroke="#222" stroke-width="0.9"/></g>
</svg>
<div id="rule"></div>
<div id="foot"></div>
</div>
</body>
</html>
